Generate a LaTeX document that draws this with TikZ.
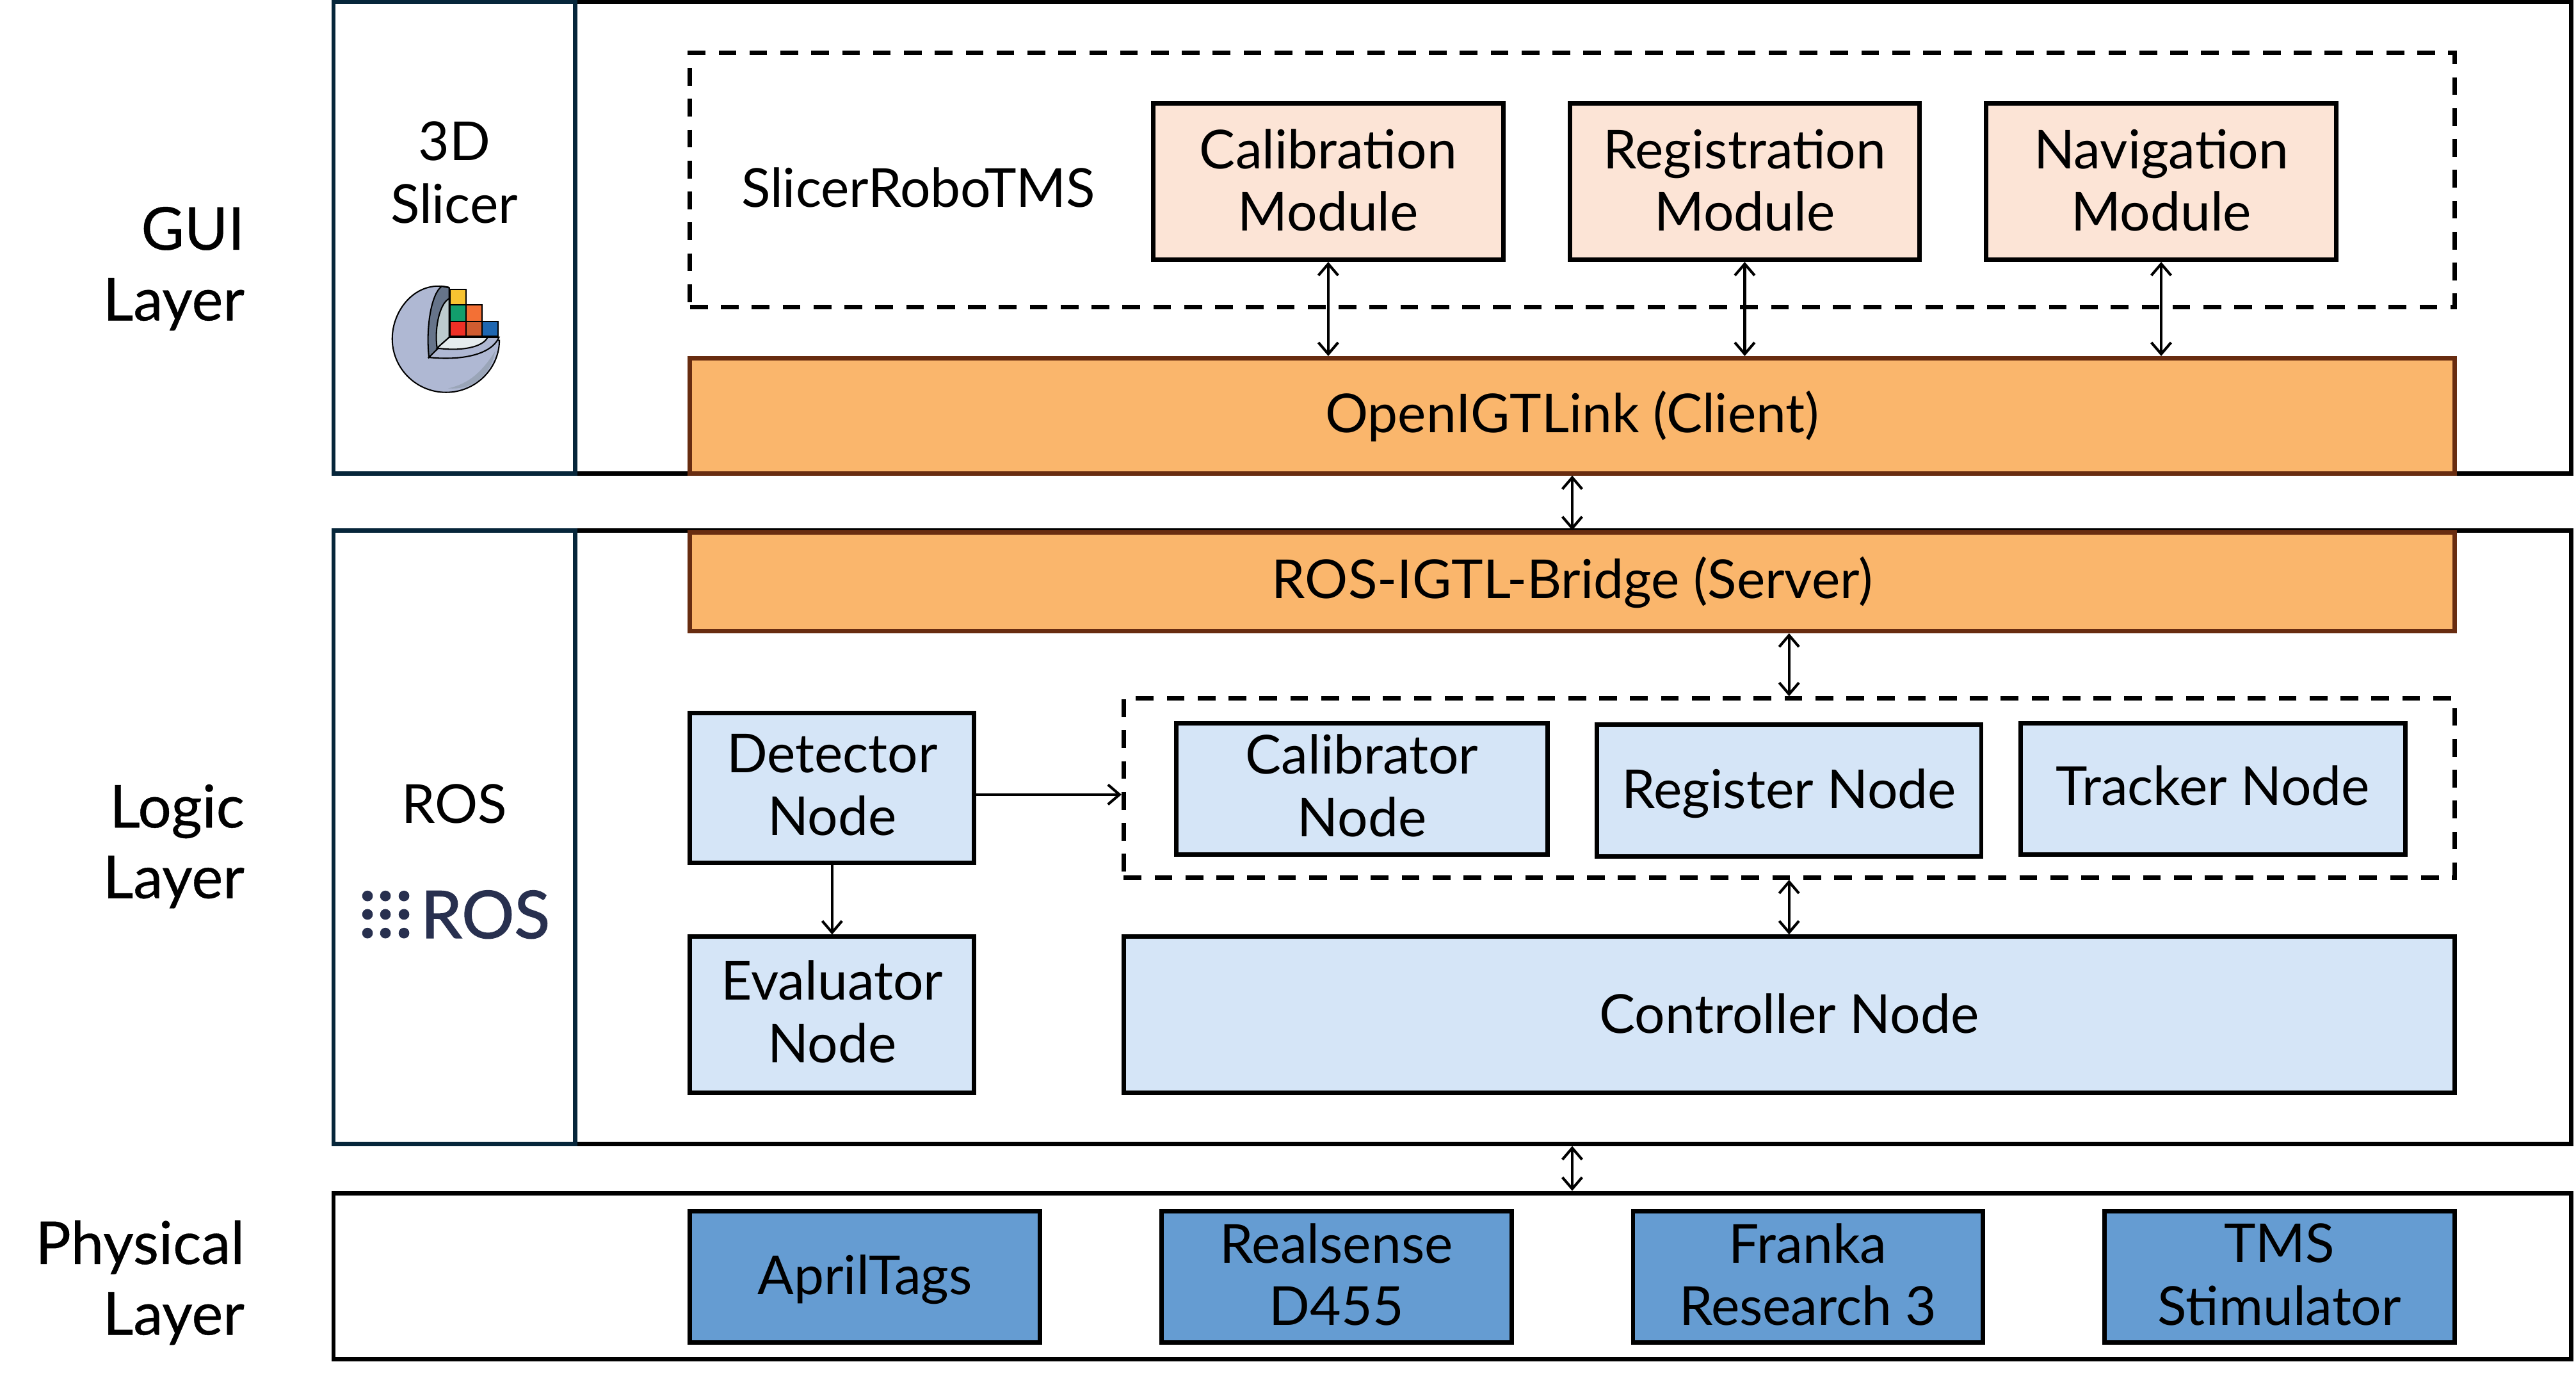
\documentclass[tikz,border=0pt]{standalone}
\usepackage{xcolor}
\usepackage{fontspec}
\setmainfont{Lato}
\newfontfamily\layerfont[FakeBold=0.4]{Lato}
\newfontfamily\roslogofont[FakeBold=1.4]{Lato}
\usetikzlibrary{arrows.meta}
\definecolor{panelnavy}{HTML}{06263A}
\definecolor{modpeach}{HTML}{FCE4D6}
\definecolor{linkorange}{HTML}{FAB66C}
\definecolor{linkbrown}{HTML}{682C10}
\definecolor{nodeblue}{HTML}{D5E5F7}
\definecolor{devblue}{HTML}{659CD2}
\definecolor{roslogo}{HTML}{28304F}
\definecolor{spherebody}{HTML}{AFB8D3}
\definecolor{sphereshade}{HTML}{9AA5B8}
\definecolor{spherecut}{HTML}{66748A}
\definecolor{spherecore}{HTML}{BCCBCE}
\definecolor{spherefloor}{HTML}{E5ECEE}

\begin{document}
\begin{tikzpicture}[x=1pt, y=-1pt, >={Straight Barb[length=7pt,width=12pt]}, node distance=253.5pt, inner sep=0pt,
  font=\fontsize{32.7}{38}\selectfont,
  box/.style={draw, line width=2.7pt, align=center},
  layer/.style={box, minimum width=1362pt},
  panel/.style={box, draw=panelnavy, minimum width=147pt},
  group/.style={draw, line width=2.7pt, dash pattern=on 10.8pt off 8pt, minimum width=#1},
  module/.style={box, fill=modpeach, minimum width=213pt, minimum height=95pt, text depth=2pt},
  link/.style={box, draw=linkbrown, fill=linkorange, minimum width=1074pt, text depth=5pt},
  rosnode/.style={box, fill=nodeblue, text depth=4pt},
  device/.style={box, fill=devblue, minimum width=213pt, minimum height=80pt, text depth=3pt},
  side/.style={align=right, anchor=east, font=\fontsize{36}{43}\selectfont\layerfont},
  conn/.style={<->, line width=1.6pt}]
\useasboundingbox (0,0) rectangle (1568,844);

\node [layer, minimum height=287pt] (guibox) at (884,144.5) {};
\node [layer, minimum height=373pt] (logicbox) at (884,509.5) {};
\node [layer, minimum height=101pt] (physbox) at (884,776.5) {};
\node [panel, minimum height=287pt] (guipanel) at (276.5,144.5) {};
\node [panel, minimum height=373pt] (logicpanel) at (276.5,509.5) {};

\node [side] (guilabel) at (149,163.5) {GUI\\Layer};
\node [side] (logiclabel) at (149,515) {Logic\\Layer};
\node [side] (physlabel) at (149,780.5) {Physical\\Layer};

\node [align=center] (slicerlabel) at (276.5,105) {3D\\Slicer};
\node (roslabel) at (276.5,489) {ROS};

% GUI layer
\node [group=1074pt, minimum height=155pt] (guigroup) at (957,109.5) {};
\node (roboname) at (559,114) {SlicerRoboTMS};
\node [module] (calmod) at (808.5,110.5) {Calibration\\Module};
\node [module] (regmod) [right of=calmod] {Registration\\Module};
\node [module] (navmod) [right of=regmod] {Navigation\\Module};
\node [link, minimum height=70pt] (client) at (957,253) {OpenIGTLink (Client)};

% logic layer
\node [link, minimum height=60pt] (bridge) at (957,354) {ROS-IGTL-Bridge (Server)};
\node [group=810pt, minimum height=109pt] (rosgroup) at (1089,479.5) {};
\node [rosnode, minimum width=173pt, minimum height=91pt] (detector) at (506.5,479.5) {Detector\\Node};
\node [rosnode, minimum width=173pt, minimum height=95pt] (evaluator) at (506.5,617.5) {Evaluator\\Node};
\node [rosnode, minimum width=226pt, minimum height=80pt] (calibrator) at (829,480) {Calibrator\\Node};
\node [rosnode, minimum width=234pt, minimum height=80pt, text depth=2.5pt] (register) at (1089,481) {Register Node};
\node [rosnode, minimum width=234pt, minimum height=80pt] (tracker) at (1347,480) {Tracker Node};
\node [rosnode, minimum width=810pt, minimum height=95pt, text depth=2pt] (controller) at (1089,617.5) {Controller Node};

% physical layer
\node [device, text depth=2.5pt] (apriltags) at (526.5,777) {AprilTags};
\node [device, node distance=287pt] (realsense) [right of=apriltags] {Realsense\\D455};
\node [device, node distance=287pt] (franka) [right of=realsense] {Franka\\Research 3};
\node [device, node distance=287pt] (stimulator) [right of=franka] {TMS\\Stimulator};

\draw [conn] (calmod.south) -- (calmod.south |- client.north);
\draw [conn] (regmod.south) -- (regmod.south |- client.north);
\draw [conn] (navmod.south) -- (navmod.south |- client.north);
\draw [conn] (client.south) -- (bridge.north);
\draw [conn] (bridge.south -| rosgroup.north) -- (rosgroup.north);
\draw [conn] (rosgroup.south) -- (controller.north);
\draw [conn] (logicbox.south -| client.south) -- (physbox.north -| client.south);
\draw [->, line width=1.6pt] ([yshift=-4pt]detector.east) -- ([yshift=-4pt]detector.east -| rosgroup.west);
\draw [->, line width=1.6pt] (detector.south) -- (evaluator.north);

% slicer logo
\begin{scope}[shift={(194.85,0)}, x=0.1299pt, y=-0.1883pt, line width=0.8pt]
\draw [fill=spherebody] (600,928) .. controls (450,905) and (338,1000) .. (338,1095) .. controls (338,1190) and (450,1268) .. (590,1268) .. controls (730,1268) and (840,1190) .. (840,1100) -- (605,1090) -- cycle;
\fill [sphereshade] (600,1255) .. controls (700,1240) and (760,1200) .. (820,1135) .. controls (800,1210) and (720,1262) .. (600,1255);
\draw [fill=spherecut] (510,1155) .. controls (495,1060) and (520,950) .. (570,925) -- (605,930) -- (605,1090) -- cycle;
\draw [fill=spherecore] (548,1125) .. controls (535,1060) and (560,980) .. (605,965) -- (605,1090) -- cycle;
\draw [fill=spherebody] (510,1155) .. controls (650,1165) and (800,1150) .. (838,1090) -- (605,1090) -- cycle;
\draw [fill=spherefloor] (548,1125) .. controls (650,1135) and (760,1125) .. (785,1090) -- (605,1090) -- cycle;
\draw [fill={rgb,255:red,247;green,195;blue,49}] (608,935) rectangle (684,985);
\draw [fill={rgb,255:red,18;green,158;blue,108}] (608,985) rectangle (684,1038);
\draw [fill={rgb,255:red,243;green,112;blue,53}] (684,985) rectangle (760,1038);
\draw [fill={rgb,255:red,238;green,48;blue,38}] (608,1038) rectangle (684,1087);
\draw [fill={rgb,255:red,207;green,92;blue,48}] (684,1038) rectangle (760,1087);
\draw [fill={rgb,255:red,31;green,103;blue,177}] (760,1038) rectangle (834,1087);
\end{scope}

% ros logo
\foreach \dotx in {223.7,234.6,245.9}
  \foreach \doty in {545.2,556.4,567.8}
    \fill [roslogo] (\dotx,\doty) circle (3.25pt);
\node [text=roslogo, anchor=west, font=\fontsize{40}{40}\selectfont\roslogofont] (roslogotext) at (256,556.5) {ROS};
\end{tikzpicture}
\end{document}
